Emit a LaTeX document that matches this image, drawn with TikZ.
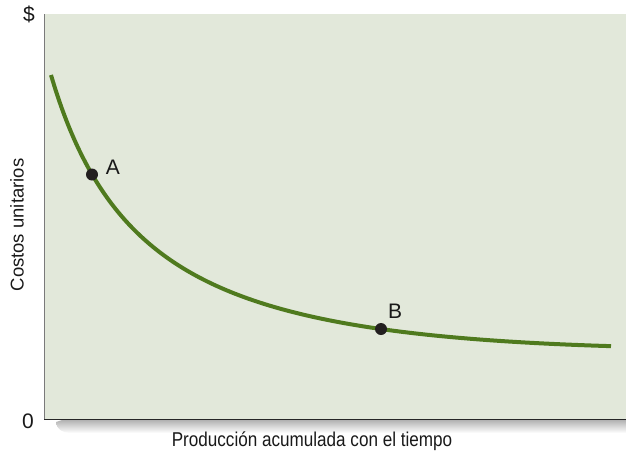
\documentclass[tikz,border=0pt]{standalone}
\usepackage{fontspec}
\setmainfont{Liberation Sans}
\newfontfamily\condfont[FakeStretch=0.855]{Liberation Sans}
\definecolor{bgpanel}{HTML}{E2E8DA}
\definecolor{curvegreen}{HTML}{4F7A1E}
\definecolor{dotblack}{HTML}{231F20}
\definecolor{axisgray}{HTML}{7A7A7A}
\tikzset{
  lbl/.style={font=\fontsize{21}{21}\selectfont, text=black!90, inner sep=0pt},
  dotpt/.style={circle, fill=dotblack, minimum size=12pt, inner sep=0pt},
}
\begin{document}
\begin{tikzpicture}[x=1pt,y=-1pt]
\useasboundingbox (0,0) rectangle (626,459);
% shadow
\shade[top color=black!30, bottom color=white] (62,420) -- (626,420) -- (626,433) -- (70,433) to[out=180,in=-90] (56,422) -- cycle;
% panel
\fill[bgpanel] (44,14) rectangle (626,419);
\draw[axisgray, line width=1.2pt] (44.5,14) -- (44.5,419);
\draw[black!85, line width=1.5pt] (44,419.5) -- (626,419.5);
% curve
\draw[curvegreen, line width=4pt] plot[domain=51:611, samples=140, smooth] (\x, {434.2 - 0.0535*\x - 367.15/((\x+52)/100)});
\node[dotpt] (A) at (92,174.5) {};
\node[dotpt] (B) at (381,329) {};
\node[lbl] (la) at (113,167) {A};
\node[lbl] (lb) at (395,311) {B};
\node[lbl] (dollar) at (29,14) {\$};
\node[lbl] (zero) at (28,421) {0};
\node[lbl, font=\fontsize{18.5}{18.5}\selectfont, rotate=90] (ylab) at (17,225) {Costos unitarios};
\node[lbl, font=\fontsize{20}{20}\selectfont] (xlab) at (312,441) {\condfont Producción acumulada con el tiempo};
\end{tikzpicture}
\end{document}
